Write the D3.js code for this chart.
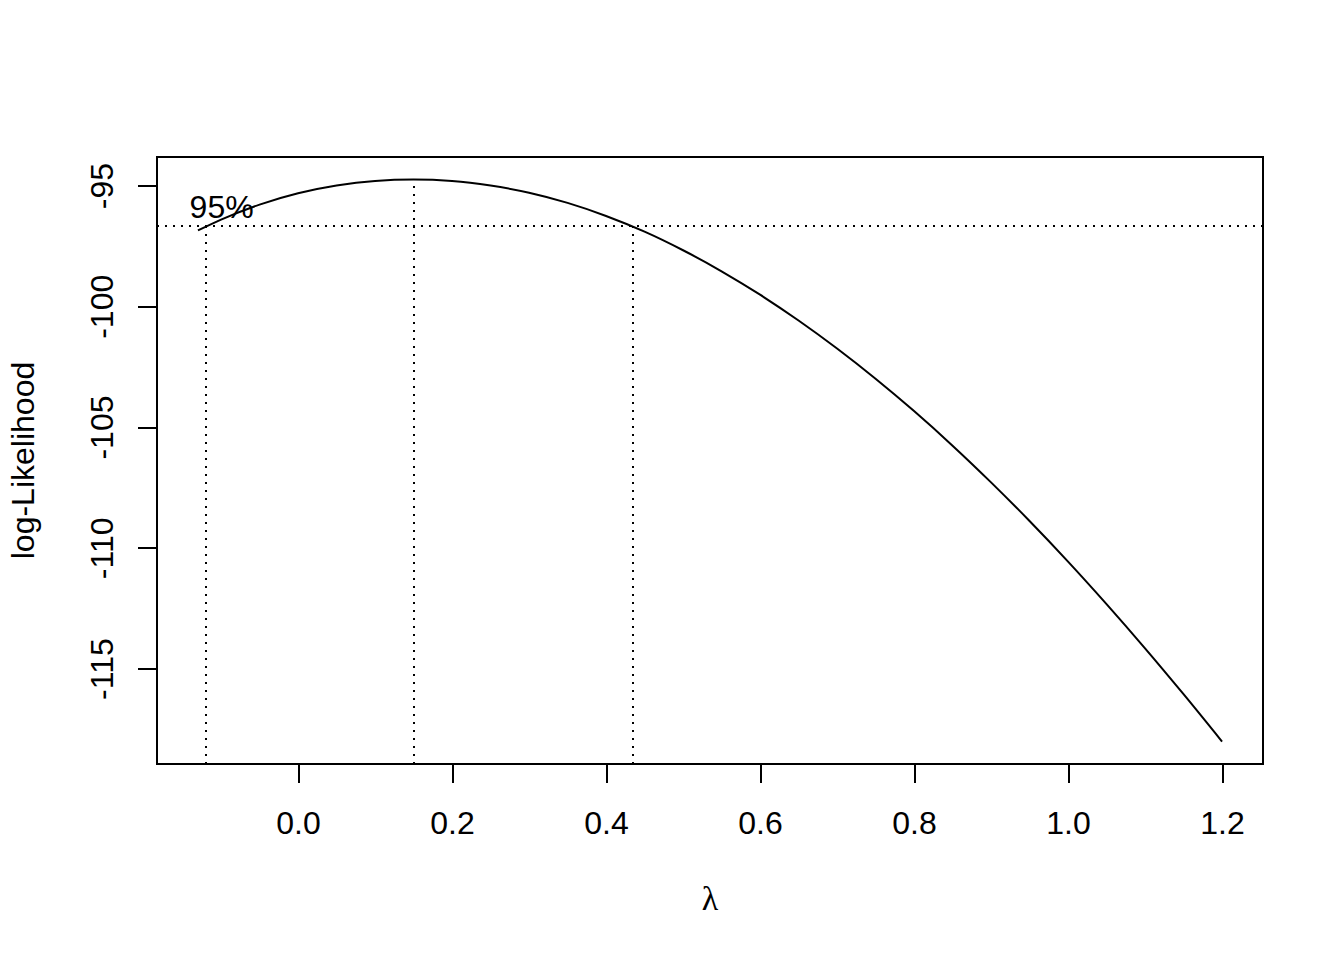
<!DOCTYPE html>
<html>
<head>
<meta charset="utf-8">
<script src="https://cdn.jsdelivr.net/npm/d3@7"></script>
<style>
html, body { margin: 0; padding: 0; background: #fff; }
svg { display: block; }
text { font-family: "Liberation Sans", Arial, sans-serif; fill: #000; }
</style>
</head>
<body>
<script>
// ---- data ----
const lambdas = [-0.13, -0.10, -0.05, 0.00, 0.05, 0.10, 0.15, 0.20, 0.25, 0.30, 0.35, 0.40, 0.45, 0.50,
                 0.55, 0.60, 0.65, 0.70, 0.75, 0.80, 0.85, 0.90, 0.95, 1.00, 1.05, 1.10, 1.15, 1.20];
const logLik = [-96.86, -96.41, -95.79, -95.32, -95.00, -94.81, -94.75, -94.81, -95.00, -95.30, -95.72, -96.26, -96.91, -97.68,
                -98.55, -99.52, -100.59, -101.75, -103.00, -104.34, -105.77, -107.29, -108.89, -110.57, -112.33, -114.16, -116.06, -118.02];
const lambdaHat = 0.15;
const ciLambda = [-0.119, 0.435];
const halfChi = 1.9207; // qchisq(0.95,1)/2
const xTicks = [0.0, 0.2, 0.4, 0.6, 0.8, 1.0, 1.2];
const yTicks = [-95, -100, -105, -110, -115];
const xLabel = "λ";
const yLabel = "log-Likelihood";
const ciLabel = "95%";

(function () {
// ---- layout ----
const W = 1344, H = 960;
const pL = 157, pR = 1263, pT = 157, pB = 764;
const fs = 32, tickLen = 19.2;

const svg = d3.select("body").append("svg").attr("width", W).attr("height", H);

const maxL = d3.max(logLik);
const lim = maxL - halfChi;

const xr = d3.extent(lambdas);
const xpad = 0.04 * (xr[1] - xr[0]);
const x = d3.scaleLinear().domain([xr[0] - xpad, xr[1] + xpad]).range([pL, pR]);

const yr = d3.extent(logLik.concat([lim]));
const ypad = 0.04 * (yr[1] - yr[0]);
const y = d3.scaleLinear().domain([yr[0] - ypad, yr[1] + ypad]).range([pB, pT]);

// curve
const line = d3.line().x((d, i) => x(lambdas[i])).y(d => y(d)).curve(d3.curveMonotoneX);
svg.append("path").datum(logLik).attr("d", line)
  .attr("fill", "none").attr("stroke", "#000").attr("stroke-width", 2);

function seg(x1, y1, x2, y2) {
  svg.append("line").attr("x1", x1).attr("y1", y1).attr("x2", x2).attr("y2", y2)
    .attr("stroke", "#000").attr("stroke-width", 2).attr("stroke-dasharray", "2,6")
    .attr("shape-rendering", "crispEdges");
}
// horizontal 95% line across plot
seg(pL, y(lim), pR, y(lim));
// vertical lines
seg(x(lambdaHat), pB, x(lambdaHat), y(maxL));
ciLambda.forEach(v => seg(x(v), pB, x(v), y(lim)));

// 95% label
svg.append("text").attr("x", x(xr[0]) + 19.2).attr("y", y(lim) - 19.2)
  .attr("dy", "0.36em").attr("text-anchor", "middle").attr("font-size", fs)
  .attr("xml:space", "preserve").text(" " + ciLabel);

// box
svg.append("rect").attr("x", pL).attr("y", pT).attr("width", pR - pL).attr("height", pB - pT)
  .attr("fill", "none").attr("stroke", "#000").attr("stroke-width", 2).attr("shape-rendering", "crispEdges");

// x axis
const xAxis = d3.axisBottom(x).tickValues(xTicks).tickSize(tickLen).tickPadding(28).tickFormat(d3.format(".1f"));
const gx = svg.append("g").attr("transform", `translate(0,${pB})`).call(xAxis);
gx.select(".domain").attr("d", `M${x(xTicks[0])},0H${x(xTicks[xTicks.length-1])}`).attr("stroke-width", 2);
gx.selectAll(".tick line").attr("stroke-width", 2).attr("shape-rendering", "crispEdges");
gx.selectAll(".tick text").attr("font-size", fs).attr("font-family", "Liberation Sans, Arial, sans-serif").attr("fill", "#000");

// y axis
const yAxis = d3.axisLeft(y).tickValues(yTicks).tickSize(tickLen).tickFormat(d => String(d));
const gy = svg.append("g").attr("transform", `translate(${pL},0)`).call(yAxis);
gy.select(".domain").attr("d", `M0,${y(yTicks[0])}V${y(yTicks[yTicks.length-1])}`).attr("stroke-width", 2);
gy.selectAll(".tick line").attr("stroke-width", 2).attr("shape-rendering", "crispEdges");
gy.selectAll(".tick text")
  .attr("font-size", fs).attr("font-family", "Liberation Sans, Arial, sans-serif").attr("fill", "#000")
  .attr("x", null).attr("dy", null)
  .attr("text-anchor", "middle")
  .attr("transform", "translate(-44,0) rotate(-90)");

// axis titles
svg.append("text").attr("x", (pL + pR) / 2).attr("y", 910)
  .attr("text-anchor", "middle").attr("font-size", 34)
  .style("font-family", "'Liberation Serif', 'DejaVu Serif', serif").text(xLabel);
svg.append("text").attr("transform", `translate(34,${(pT + pB) / 2}) rotate(-90)`)
  .attr("text-anchor", "middle").attr("font-size", fs).text(yLabel);
})();
</script>
</body>
</html>
